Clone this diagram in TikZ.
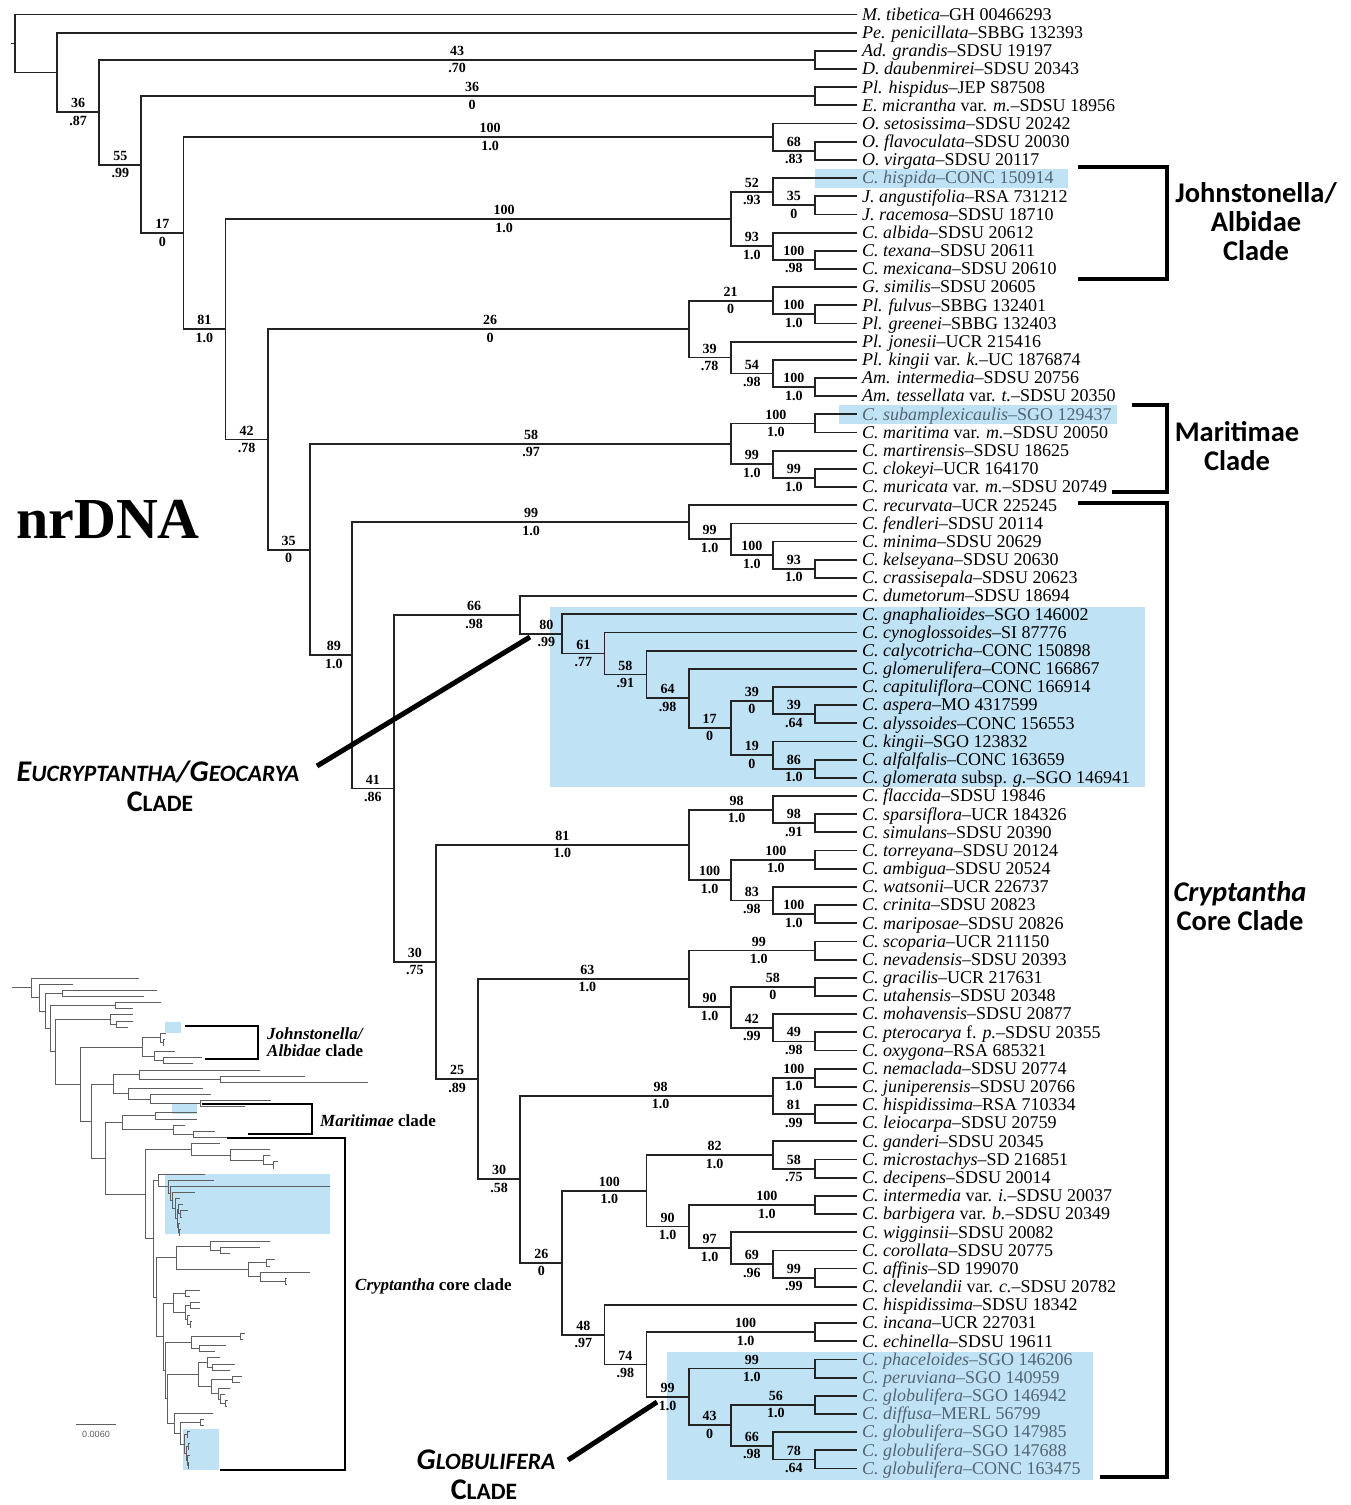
\documentclass[tikz,border=0pt]{standalone}
\usepackage{fontspec}
\setmainfont{Liberation Serif}
\newfontfamily\carl{Carlito}
\newfontfamily\lsans{Liberation Sans}
\usetikzlibrary{calc}
\definecolor{hl}{RGB}{191,227,245}
\definecolor{hltext}{RGB}{85,100,115}
\definecolor{treec}{RGB}{35,35,35}
\definecolor{insetc}{RGB}{95,95,95}
\tikzset{
  br/.style={line width=1.8pt, draw=treec},
  ib/.style={line width=0.75pt, draw=insetc},
  bs/.style={font=\fontsize{14}{14}\selectfont\bfseries, inner sep=0pt, yshift=9pt},
  ppl/.style={font=\fontsize{14}{14}\selectfont\bfseries, inner sep=0pt, yshift=-8.5pt},
  leaf/.style={anchor=base west, inner sep=0pt, xshift=5pt, yshift=-5.8pt, font=\fontsize{18}{18}\selectfont},
  hleaf/.style={leaf, text=hltext},
  brk/.style={line width=4pt, line join=miter, line cap=butt},
  ptr/.style={line width=5pt},
  cladetext/.style={align=center, font=\carl\bfseries\fontsize{28.5}{29}\selectfont, inner sep=0pt},
  insettext/.style={anchor=base west, inner sep=0pt, font=\fontsize{17}{17}\selectfont\bfseries}
}
\NewDocumentCommand\tn{O{0} m m m m m m}{%
  \coordinate (tmpx) at ({15+42.1*#3},0);
  \coordinate (#2) at ($(#4)!0.5!(#5)$);
  \coordinate (#2) at (#2 -| tmpx);
  \draw[br] (#2) |- (#4);
  \draw[br] (#2) |- (#5);
  \ifcsname lb@#4\endcsname\csname lb@#4\endcsname{#2}\fi
  \ifcsname lb@#5\endcsname\csname lb@#5\endcsname{#2}\fi
  \expandafter\gdef\csname lb@#2\endcsname##1{%
    \node[bs,xshift=#1] at ($(##1 |- #2)!0.5!(#2)$) {#6};
    \node[ppl,xshift=#1] at ($(##1 |- #2)!0.5!(#2)$) {#7};}%
}
\NewDocumentCommand\itn{m m m m}{%
  \coordinate (tmpx) at (#2,0);
  \coordinate (#1) at ($(#3)!0.5!(#4)$);
  \coordinate (#1) at (#1 -| tmpx);
  \draw[ib] (#1) |- (#3);
  \draw[ib] (#1) |- (#4);
}
\newcommand\bigc[1]{{\fontsize{30}{30}\selectfont #1}}
\newcommand\smc[1]{{\fontsize{23.5}{23.5}\selectfont #1}}
\begin{document}
\begin{tikzpicture}[x=1pt,y=-1pt]
\useasboundingbox (0,0) rectangle (1351,1505);
\fill[white] (0,0) rectangle (1351,1505);
% highlight boxes
\fill[hl] (815,169) rectangle (1068,188);
\fill[hl] (839,405) rectangle (1117,424);
\fill[hl] (550,607) rectangle (1145,787);
\fill[hl] (667,1352) rectangle (1093,1480);
\fill[hl] (165,1022) rectangle (181,1033);
\fill[hl] (172,1104) rectangle (197,1114);
\fill[hl] (165,1174) rectangle (330,1234);
\fill[hl] (183,1429) rectangle (219,1470);
% leaves
\foreach \i in {1,...,81} {\coordinate (L\i) at (857,{14.5+18.175*(\i-1)});}
% main tree
\tn{AD}{19}{L3}{L4}{43}{.70}
\tn[-6]{PE}{19}{L5}{L6}{36}{0}
\tn{O2}{19}{L8}{L9}{68}{.83}
\tn[12]{O1}{18}{L7}{O2}{100}{1.0}
\tn{J3}{19}{L11}{L12}{35}{0}
\tn{J2}{18}{L10}{J3}{52}{.93}
\tn{J5}{19}{L14}{L15}{100}{.98}
\tn{J4}{18}{L13}{J5}{93}{1.0}
\tn[26]{J1}{17}{J2}{J4}{100}{1.0}
\tn{G3}{19}{L17}{L18}{100}{1.0}
\tn{G2}{18}{L16}{G3}{21}{0}
\tn{G6}{19}{L21}{L22}{100}{1.0}
\tn{G5}{18}{L20}{G6}{54}{.98}
\tn{G4}{17}{L19}{G5}{39}{.78}
\tn[12]{G1}{16}{G2}{G4}{26}{0}
\tn[3]{M2}{19}{L23}{L24}{100}{1.0}
\tn{M4}{19}{L26}{L27}{99}{1.0}
\tn{M3}{18}{L25}{M4}{99}{1.0}
\tn[11]{M1}{17}{M2}{M3}{58}{.97}
\tn{R4}{19}{L31}{L32}{93}{1.0}
\tn{R3}{18}{L30}{R4}{100}{1.0}
\tn{R2}{17}{L29}{R3}{99}{1.0}
\tn[11]{R1}{16}{L28}{R2}{99}{1.0}
\tn{EG9}{19}{L39}{L40}{39}{.64}
\tn{EG7}{18}{L38}{EG9}{39}{0}
\tn{EG10}{19}{L42}{L43}{86}{1.0}
\tn{EG8}{18}{L41}{EG10}{19}{0}
\tn{EG6}{17}{EG7}{EG8}{17}{0}
\tn{EG5}{16}{L37}{EG6}{64}{.98}
\tn{EG4}{15}{L36}{EG5}{58}{.91}
\tn{EG3}{14}{L35}{EG4}{61}{.77}
\tn[5]{EG2}{13}{L34}{EG3}{80}{.99}
\tn[17]{EG1}{12}{L33}{EG2}{66}{.98}
\tn{K3}{19}{L45}{L46}{98}{.91}
\tn[6]{K2}{18}{L44}{K3}{98}{1.0}
\tn[3]{K5}{19}{L47}{L48}{100}{1.0}
\tn{K7}{19}{L50}{L51}{100}{1.0}
\tn{K6}{18}{L49}{K7}{83}{.98}
\tn{K4}{17}{K5}{K6}{100}{1.0}
\tn{K1}{16}{K2}{K4}{81}{1.0}
\tn[7]{Q2}{19}{L52}{L53}{99}{1.0}
\tn{Q4}{19}{L54}{L55}{58}{0}
\tn{Q6}{19}{L57}{L58}{49}{.98}
\tn{Q5}{18}{L56}{Q6}{42}{.99}
\tn{Q3}{17}{Q4}{Q5}{90}{1.0}
\tn[4]{Q1}{16}{Q2}{Q3}{63}{1.0}
\tn{S2}{19}{L59}{L60}{100}{1.0}
\tn{S3}{19}{L61}{L62}{81}{.99}
\tn[14]{S1}{18}{S2}{S3}{98}{1.0}
\tn{P3}{19}{L64}{L65}{58}{.75}
\tn[5]{P2}{18}{L63}{P3}{82}{1.0}
\tn[15]{P5}{19}{L66}{L67}{100}{1.0}
\tn{P8}{19}{L70}{L71}{99}{.99}
\tn{P7}{18}{L69}{P8}{69}{.96}
\tn{P6}{17}{L68}{P7}{97}{1.0}
\tn{P4}{16}{P5}{P6}{90}{1.0}
\tn[5]{P1}{15}{P2}{P4}{100}{1.0}
\tn[15]{T1}{19}{L73}{L74}{100}{1.0}
\tn{U1}{19}{L75}{L76}{99}{1.0}
\tn[3]{U3}{19}{L77}{L78}{56}{1.0}
\tn{U5}{19}{L80}{L81}{78}{.64}
\tn{U4}{18}{L79}{U5}{66}{.98}
\tn{U2}{17}{U3}{U4}{43}{0}
\tn{U}{16}{U1}{U2}{99}{1.0}
\tn{R}{15}{T1}{U}{74}{.98}
\tn{Q}{14}{L72}{R}{48}{.97}
\tn{O}{13}{P1}{Q}{26}{0}
\tn{N}{12}{S1}{O}{30}{.58}
\tn{N0}{11}{Q1}{N}{25}{.89}
\tn{J}{10}{K1}{N0}{30}{.75}
\tn{I}{9}{EG1}{J}{41}{.86}
\tn[3]{H}{8}{R1}{I}{89}{1.0}
\tn{G}{7}{M1}{H}{35}{0}
\tn{F}{6}{G1}{G}{42}{.78}
\tn{E}{5}{J1}{F}{81}{1.0}
\tn{D}{4}{O1}{E}{17}{0}
\tn{C}{3}{PE}{D}{55}{.99}
\tn{B}{2}{AD}{C}{36}{.87}
\tn{A}{1}{L2}{B}{}{}
\tn{root}{0}{L1}{A}{}{}
\coordinate (rstub) at ([xshift=-4pt]root);
\draw[br] (root) -- (rstub);
% leaf labels
\node[leaf] (t1) at (L1) {\textit{M. tibetica}–GH 00466293};
\node[leaf] (t2) at (L2) {\textit{Pe. penicillata}–SBBG 132393};
\node[leaf] (t3) at (L3) {\textit{Ad. grandis}–SDSU 19197};
\node[leaf] (t4) at (L4) {\textit{D. daubenmirei}–SDSU 20343};
\node[leaf] (t5) at (L5) {\textit{Pl. hispidus}–JEP S87508};
\node[leaf] (t6) at (L6) {\textit{E. micrantha} var. \textit{m.}–SDSU 18956};
\node[leaf] (t7) at (L7) {\textit{O. setosissima}–SDSU 20242};
\node[leaf] (t8) at (L8) {\textit{O. flavoculata}–SDSU 20030};
\node[leaf] (t9) at (L9) {\textit{O. virgata}–SDSU 20117};
\node[hleaf] (t10) at (L10) {\textit{C. hispida}–CONC 150914};
\node[leaf] (t11) at (L11) {\textit{J. angustifolia}–RSA 731212};
\node[leaf] (t12) at (L12) {\textit{J. racemosa}–SDSU 18710};
\node[leaf] (t13) at (L13) {\textit{C. albida}–SDSU 20612};
\node[leaf] (t14) at (L14) {\textit{C. texana}–SDSU 20611};
\node[leaf] (t15) at (L15) {\textit{C. mexicana}–SDSU 20610};
\node[leaf] (t16) at (L16) {\textit{G. similis}–SDSU 20605};
\node[leaf] (t17) at (L17) {\textit{Pl. fulvus}–SBBG 132401};
\node[leaf] (t18) at (L18) {\textit{Pl. greenei}–SBBG 132403};
\node[leaf] (t19) at (L19) {\textit{Pl. jonesii}–UCR 215416};
\node[leaf] (t20) at (L20) {\textit{Pl. kingii} var. \textit{k.}–UC 1876874};
\node[leaf] (t21) at (L21) {\textit{Am. intermedia}–SDSU 20756};
\node[leaf] (t22) at (L22) {\textit{Am. tessellata} var. \textit{t.}–SDSU 20350};
\node[hleaf] (t23) at (L23) {\textit{C. subamplexicaulis}–SGO 129437};
\node[leaf] (t24) at (L24) {\textit{C. maritima} var. \textit{m.}–SDSU 20050};
\node[leaf] (t25) at (L25) {\textit{C. martirensis}–SDSU 18625};
\node[leaf] (t26) at (L26) {\textit{C. clokeyi}–UCR 164170};
\node[leaf] (t27) at (L27) {\textit{C. muricata} var. \textit{m.}–SDSU 20749};
\node[leaf] (t28) at (L28) {\textit{C. recurvata}–UCR 225245};
\node[leaf] (t29) at (L29) {\textit{C. fendleri}–SDSU 20114};
\node[leaf] (t30) at (L30) {\textit{C. minima}–SDSU 20629};
\node[leaf] (t31) at (L31) {\textit{C. kelseyana}–SDSU 20630};
\node[leaf] (t32) at (L32) {\textit{C. crassisepala}–SDSU 20623};
\node[leaf] (t33) at (L33) {\textit{C. dumetorum}–SDSU 18694};
\node[leaf] (t34) at (L34) {\textit{C. gnaphalioides}–SGO 146002};
\node[leaf] (t35) at (L35) {\textit{C. cynoglossoides}–SI 87776};
\node[leaf] (t36) at (L36) {\textit{C. calycotricha}–CONC 150898};
\node[leaf] (t37) at (L37) {\textit{C. glomerulifera}–CONC 166867};
\node[leaf] (t38) at (L38) {\textit{C. capituliflora}–CONC 166914};
\node[leaf] (t39) at (L39) {\textit{C. aspera}–MO 4317599};
\node[leaf] (t40) at (L40) {\textit{C. alyssoides}–CONC 156553};
\node[leaf] (t41) at (L41) {\textit{C. kingii}–SGO 123832};
\node[leaf] (t42) at (L42) {\textit{C. alfalfalis}–CONC 163659};
\node[leaf] (t43) at (L43) {\textit{C. glomerata} subsp. \textit{g.}–SGO 146941};
\node[leaf] (t44) at (L44) {\textit{C. flaccida}–SDSU 19846};
\node[leaf] (t45) at (L45) {\textit{C. sparsiflora}–UCR 184326};
\node[leaf] (t46) at (L46) {\textit{C. simulans}–SDSU 20390};
\node[leaf] (t47) at (L47) {\textit{C. torreyana}–SDSU 20124};
\node[leaf] (t48) at (L48) {\textit{C. ambigua}–SDSU 20524};
\node[leaf] (t49) at (L49) {\textit{C. watsonii}–UCR 226737};
\node[leaf] (t50) at (L50) {\textit{C. crinita}–SDSU 20823};
\node[leaf] (t51) at (L51) {\textit{C. mariposae}–SDSU 20826};
\node[leaf] (t52) at (L52) {\textit{C. scoparia}–UCR 211150};
\node[leaf] (t53) at (L53) {\textit{C. nevadensis}–SDSU 20393};
\node[leaf] (t54) at (L54) {\textit{C. gracilis}–UCR 217631};
\node[leaf] (t55) at (L55) {\textit{C. utahensis}–SDSU 20348};
\node[leaf] (t56) at (L56) {\textit{C. mohavensis}–SDSU 20877};
\node[leaf] (t57) at (L57) {\textit{C. pterocarya} f. \textit{p.}–SDSU 20355};
\node[leaf] (t58) at (L58) {\textit{C. oxygona}–RSA 685321};
\node[leaf] (t59) at (L59) {\textit{C. nemaclada}–SDSU 20774};
\node[leaf] (t60) at (L60) {\textit{C. juniperensis}–SDSU 20766};
\node[leaf] (t61) at (L61) {\textit{C. hispidissima}–RSA 710334};
\node[leaf] (t62) at (L62) {\textit{C. leiocarpa}–SDSU 20759};
\node[leaf] (t63) at (L63) {\textit{C. ganderi}–SDSU 20345};
\node[leaf] (t64) at (L64) {\textit{C. microstachys}–SD 216851};
\node[leaf] (t65) at (L65) {\textit{C. decipens}–SDSU 20014};
\node[leaf] (t66) at (L66) {\textit{C. intermedia} var. \textit{i.}–SDSU 20037};
\node[leaf] (t67) at (L67) {\textit{C. barbigera} var. \textit{b.}–SDSU 20349};
\node[leaf] (t68) at (L68) {\textit{C. wigginsii}–SDSU 20082};
\node[leaf] (t69) at (L69) {\textit{C. corollata}–SDSU 20775};
\node[leaf] (t70) at (L70) {\textit{C. affinis}–SD 199070};
\node[leaf] (t71) at (L71) {\textit{C. clevelandii} var. \textit{c.}–SDSU 20782};
\node[leaf] (t72) at (L72) {\textit{C. hispidissima}–SDSU 18342};
\node[leaf] (t73) at (L73) {\textit{C. incana}–UCR 227031};
\node[leaf] (t74) at (L74) {\textit{C. echinella}–SDSU 19611};
\node[hleaf] (t75) at (L75) {\textit{C. phaceloides}–SGO 146206};
\node[hleaf] (t76) at (L76) {\textit{C. peruviana}–SGO 140959};
\node[hleaf] (t77) at (L77) {\textit{C. globulifera}–SGO 146942};
\node[hleaf] (t78) at (L78) {\textit{C. diffusa}–MERL 56799};
\node[hleaf] (t79) at (L79) {\textit{C. globulifera}–SGO 147985};
\node[hleaf] (t80) at (L80) {\textit{C. globulifera}–SGO 147688};
\node[hleaf] (t81) at (L81) {\textit{C. globulifera}–CONC 163475};
% brackets
\coordinate (jb1) at (1078,167); \coordinate (jb2) at (1167,167);
\coordinate (jb3) at (1167,279); \coordinate (jb4) at (1078,279);
\draw[brk] (jb1) -- (jb2) -- (jb3) -- (jb4);
\coordinate (mb1) at (1132,405); \coordinate (mb2) at (1167,405);
\coordinate (mb3) at (1167,492); \coordinate (mb4) at (1112,492);
\draw[brk] (mb1) -- (mb2) -- (mb3) -- (mb4);
\coordinate (cb1) at (1078,503); \coordinate (cb2) at (1167,503);
\coordinate (cb3) at (1167,1477); \coordinate (cb4) at (1100,1477);
\draw[brk] (cb1) -- (cb2) -- (cb3) -- (cb4);
\node[cladetext] (jtext) at (1256,222) {Johnstonella/\\Albidae\\Clade};
\node[cladetext] (mtext) at (1237,446) {Maritimae\\Clade};
\node[cladetext] (ctext) at (1240,906) {\itshape Cryptantha\\Core Clade};
% title
\node[anchor=base west, inner sep=0pt, font=\fontsize{58}{58}\selectfont\bfseries] (title) at (16,538) {nrDNA};
% clade pointers
\node[anchor=base, inner sep=0pt, font=\carl\bfseries\itshape] (egtext) at (158,781) {\bigc{E}\smc{UCRYPTANTHA}\bigc{/G}\smc{EOCARYA}};
\node[anchor=base, inner sep=0pt, font=\carl\bfseries] (egtext2) at (160,811) {\bigc{C}\smc{LADE}};
\coordinate (egs) at (317,766); \coordinate (ege) at (530,637);
\draw[ptr] (egs) -- (ege);
\node[anchor=base, inner sep=0pt, font=\carl\bfseries\itshape] (gltext) at (486,1469) {\bigc{G}\smc{LOBULIFERA}};
\node[anchor=base, inner sep=0pt, font=\carl\bfseries] (gltext2) at (484,1499) {\bigc{C}\smc{LADE}};
\coordinate (gls) at (568,1460); \coordinate (gle) at (657,1402);
\draw[ptr] (gls) -- (gle);
% inset phylogram
\foreach \i/\t in {1/139,2/73,3/157,4/144,5/161,6/133,7/133,8/133,9/128,10/166,11/165,12/164,13/175,14/202,15/193,16/260,17/305,18/368,19/203,20/211,21/271,22/245,23/197,24/197,25/185,26/215,27/242,28/220,29/270,30/270,31/278,32/274,33/205,34/214,35/330,36/195,37/180,38/183,39/188,40/182,41/180,42/181,43/180,44/270,45/260,46/230,47/275,48/270,49/310,50/287,51/287,52/200,53/190,54/200,55/200,56/190,57/192,58/191,59/245,60/243,61/226,62/215,63/220,64/235,65/230,66/242,67/240,68/230,69/225,70/228,71/227,72/213,73/204,74/204,75/190,76/188,77/190,78/189,79/190,80/189,81/189}
  {\coordinate (iL\i) at (\t,{978+6.125*(\i-1)});}
\itn{iAD}{62}{iL3}{iL4}
\itn{iPE}{115}{iL5}{iL6}
\itn{iO2}{116}{iL8}{iL9}
\itn{iO1}{110}{iL7}{iO2}
\itn{iJ3}{163}{iL11}{iL12}
\itn{iJ2}{160}{iL10}{iJ3}
\itn{iJ5}{163}{iL14}{iL15}
\itn{iJ4}{154}{iL13}{iJ5}
\itn{iJ1}{142}{iJ2}{iJ4}
\itn{iG3}{220}{iL17}{iL18}
\itn{iG2}{139}{iL16}{iG3}
\itn{iG6}{200}{iL21}{iL22}
\itn{iG5}{150}{iL20}{iG6}
\itn{iG4}{128}{iL19}{iG5}
\itn{iG1}{113}{iG2}{iG4}
\itn{iM2}{155}{iL23}{iL24}
\itn{iM4}{193}{iL26}{iL27}
\itn{iM3}{173}{iL25}{iM4}
\itn{iM1}{122}{iM2}{iM3}
\itn{iR4}{273}{iL31}{iL32}
\itn{iR3}{263}{iL30}{iR4}
\itn{iR2}{230}{iL29}{iR3}
\itn{iR1}{191}{iL28}{iR2}
\itn{iEG9}{180}{iL39}{iL40}
\itn{iEG7}{178}{iL38}{iEG9}
\itn{iEG10}{179}{iL42}{iL43}
\itn{iEG8}{178}{iL41}{iEG10}
\itn{iEG6}{177}{iEG7}{iEG8}
\itn{iEG5}{175}{iL37}{iEG6}
\itn{iEG4}{172}{iL36}{iEG5}
\itn{iEG3}{170}{iL35}{iEG4}
\itn{iEG2}{168}{iL34}{iEG3}
\itn{iEG1}{158}{iL33}{iEG2}
\itn{iK3}{220}{iL45}{iL46}
\itn{iK2}{210}{iL44}{iK3}
\itn{iK5}{266}{iL47}{iL48}
\itn{iK7}{285}{iL50}{iL51}
\itn{iK6}{260}{iL49}{iK7}
\itn{iK4}{248}{iK5}{iK6}
\itn{iK1}{176}{iK2}{iK4}
\itn{iQ2}{185}{iL52}{iL53}
\itn{iQ4}{190}{iL54}{iL55}
\itn{iQ6}{190}{iL57}{iL58}
\itn{iQ5}{187}{iL56}{iQ6}
\itn{iQ3}{185}{iQ4}{iQ5}
\itn{iQ1}{173}{iQ2}{iQ3}
\itn{iS2}{240}{iL59}{iL60}
\itn{iS3}{199}{iL61}{iL62}
\itn{iS1}{191}{iS2}{iS3}
\itn{iP3}{212}{iL64}{iL65}
\itn{iP2}{207}{iL63}{iP3}
\itn{iP5}{232}{iL66}{iL67}
\itn{iP8}{225}{iL70}{iL71}
\itn{iP7}{220}{iL69}{iP8}
\itn{iP6}{218}{iL68}{iP7}
\itn{iP4}{211}{iP5}{iP6}
\itn{iP1}{198}{iP2}{iP4}
\itn{iT1}{200}{iL73}{iL74}
\itn{iU1}{187}{iL75}{iL76}
\itn{iU3}{188}{iL77}{iL78}
\itn{iU5}{188}{iL80}{iL81}
\itn{iU4}{187}{iL79}{iU5}
\itn{iU2}{186}{iU3}{iU4}
\itn{iU}{184}{iU1}{iU2}
\itn{iR}{180}{iT1}{iU}
\itn{iQ}{174}{iL72}{iR}
\itn{iO}{167}{iP1}{iQ}
\itn{iN}{165}{iS1}{iO}
\itn{iN0}{163}{iQ1}{iN}
\itn{iJ}{156}{iK1}{iN0}
\itn{iI}{153}{iEG1}{iJ}
\itn{iH}{145}{iR1}{iI}
\itn{iG}{105}{iM1}{iH}
\itn{iF}{91}{iG1}{iG}
\itn{iE}{80}{iJ1}{iF}
\itn{iD}{55}{iO1}{iE}
\itn{iC}{50}{iPE}{iD}
\itn{iB}{45}{iAD}{iC}
\itn{iA}{39}{iL2}{iB}
\itn{iroot}{31}{iL1}{iA}
\coordinate (istub) at ([xshift=-19pt]iroot);
\draw[ib] (iroot) -- (istub);
% inset brackets
\coordinate (ijb1) at (185,1026); \coordinate (ijb2) at (258,1026);
\coordinate (ijb3) at (258,1059); \coordinate (ijb4) at (205,1059);
\draw[line width=1.6pt] (ijb1) -- (ijb2) -- (ijb3) -- (ijb4);
\coordinate (imb1) at (202,1104); \coordinate (imb2) at (312,1104);
\coordinate (imb3) at (312,1134); \coordinate (imb4) at (248,1134);
\draw[line width=1.6pt] (imb1) -- (imb2) -- (imb3) -- (imb4);
\coordinate (icb1) at (227,1138); \coordinate (icb2) at (345,1138);
\coordinate (icb3) at (345,1470); \coordinate (icb4) at (220,1470);
\draw[line width=1.6pt] (icb1) -- (icb2) -- (icb3) -- (icb4);
\node[insettext] (ijt) at (267,1039) {\itshape Johnstonella/};
\node[insettext] (ijt2) at (267,1056) {\textit{Albidae} clade};
\node[insettext] (imt) at (320,1126) {\textit{Maritimae} clade};
\node[insettext] (ict) at (355,1290) {\textit{Cryptantha} core clade};
% scale bar
\coordinate (sb1) at (76,1424); \coordinate (sb2) at (116,1424);
\draw[line width=0.8pt, draw=insetc] (sb1) -- (sb2);
\node[inner sep=0pt, font=\lsans\fontsize{9}{9}\selectfont, text=insetc] (sbt) at (96,1434) {0.0060};
\end{tikzpicture}
\end{document}
